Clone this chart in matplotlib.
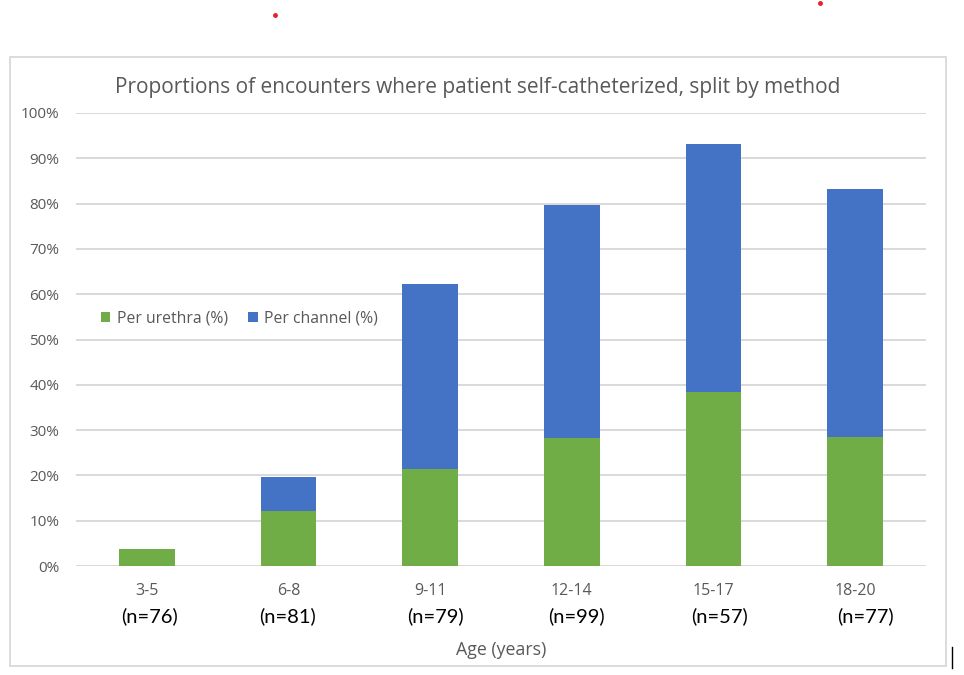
import matplotlib
matplotlib.use("Agg")
import matplotlib.pyplot as plt
import matplotlib.patches as mpatches
from matplotlib.lines import Line2D
import numpy as np

plt.rcParams['font.family'] = ['Open Sans', 'DejaVu Sans']

# ---- data ----
categories = ["3-5", "6-8", "9-11", "12-14", "15-17", "18-20"]
n_labels = ["(n=76)", "(n=81)", "(n=79)", "(n=99)", "(n=57)", "(n=77)"]
per_urethra = [3.8, 12.2, 21.5, 28.3, 38.5, 28.5]
per_channel = [0.0, 7.5, 40.7, 51.3, 54.6, 54.7]
series_names = ["Per urethra (%)", "Per channel (%)"]
title = "Proportions of encounters where patient self-catheterized, split by method"
xlabel = "Age (years)"

# ---- style ----
GREEN = "#70AD47"
BLUE = "#4472C4"
GRID = "#D9D9D9"
TXT = "#595959"
n_label_nudge_px = [3, -1, 5, 5, 6, 10]

W, H = 964, 675
fig = plt.figure(figsize=(W / 100, H / 100), dpi=100)

# outer chart border
fig.patches.append(mpatches.Rectangle((10 / W, 1 - 666 / H), 936 / W, 609 / H,
                                      transform=fig.transFigure, fill=False,
                                      edgecolor=GRID, linewidth=1.3))

ax = fig.add_axes([76 / W, (H - 566) / H, 850 / W, 453 / H])
x = np.arange(len(categories))
ax.bar(x, per_urethra, width=0.395, color=GREEN, label=series_names[0], zorder=3)
ax.bar(x, per_channel, width=0.395, bottom=per_urethra, color=BLUE,
       label=series_names[1], zorder=3)

ax.set_xlim(-0.5, len(categories) - 0.5)
ax.set_ylim(0, 100)
ax.set_yticks(np.arange(0, 101, 10))
ax.set_yticklabels([f"{v}%" for v in range(0, 101, 10)])
ax.yaxis.grid(True, color=GRID, linewidth=1.4, zorder=0)
ax.set_axisbelow(True)
for s in ax.spines.values():
    s.set_visible(False)
ax.tick_params(axis='y', length=0, pad=12, labelsize=11, labelcolor=TXT)
ax.tick_params(axis='x', length=0, pad=12, labelsize=11.5, labelcolor=TXT)
ax.set_xticks(x)
ax.set_xticklabels(categories)

for i, lab in enumerate(n_labels):
    ax.annotate(lab, xy=(x[i], 0), xycoords=('data', 'axes fraction'),
                xytext=(n_label_nudge_px[i] * 0.72, -50 * 0.72),
                textcoords='offset points', ha='center', va='center',
                fontsize=14.5, color='black', family=['Lato', 'DejaVu Sans'])

fig.text(501 / W, 1 - 650 / H, xlabel, ha='center', va='center',
         fontsize=12.8, color=TXT)
fig.text(478 / W, 1 - 88 / H, title, ha='center', va='center',
         fontsize=15, color=TXT)

leg = ax.legend(loc='center left', bbox_to_anchor=(0.0215, 0.547), ncol=2,
                frameon=False, fontsize=11.3, labelcolor=TXT,
                handlelength=0.62, handleheight=0.62, handletextpad=0.4,
                columnspacing=1.3, borderaxespad=0)

# stray marks in the reference screenshot
fig.add_artist(Line2D([275 / W], [1 - 15 / H], marker='o', markersize=2.5,
                      color='#E8202A', linestyle='none', transform=fig.transFigure))
fig.add_artist(Line2D([820 / W], [1 - 3 / H], marker='o', markersize=2.5,
                      color='#E8202A', linestyle='none', transform=fig.transFigure))
fig.add_artist(Line2D([951.5 / W, 951.5 / W], [1 - 647 / H, 1 - 668 / H],
                      color='black', linewidth=1.0, transform=fig.transFigure))

fig.savefig("out.png", dpi=100)
